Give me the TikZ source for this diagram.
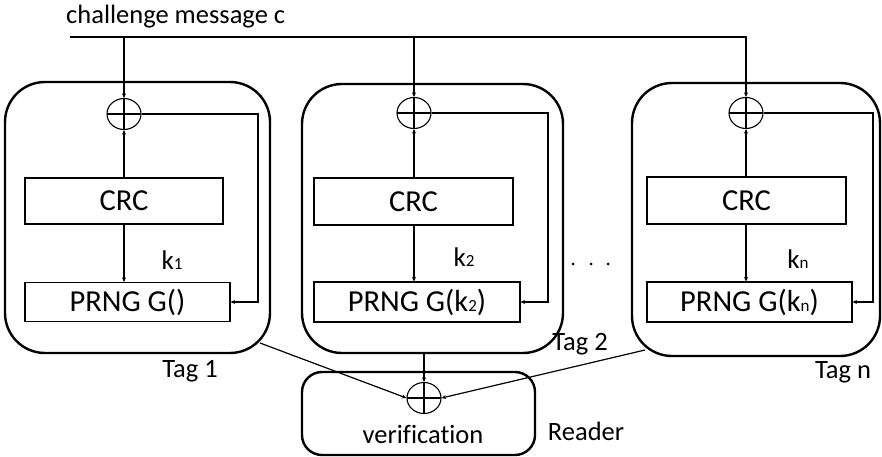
\documentclass[tikz,border=0pt]{standalone}
\usepackage{fontspec}
\setmainfont[Ligatures=NoCommon]{Carlito}
\usetikzlibrary{shapes.geometric,arrows.meta,calc}
\begin{document}
\begin{tikzpicture}[x=1pt,y=-1pt,
  tagbox/.style={draw,line width=2.4pt,rounded corners=40pt,inner sep=0pt},
  rdbox/.style={draw,line width=2.4pt,rounded corners=20pt,inner sep=0pt},
  blk/.style={draw,line width=1.1pt,inner sep=0pt,font=\fontsize{30.5}{32}\selectfont},
  xorn/.style={draw,ellipse,line width=1.1pt,inner sep=0pt,minimum width=34pt,minimum height=31pt,
    path picture={\draw[line width=1.1pt] (path picture bounding box.north) -- (path picture bounding box.south)
      (path picture bounding box.west) -- (path picture bounding box.east);}},
  lbl/.style={font=\fontsize{26.5}{28}\selectfont,inner sep=0pt},
  kl/.style={font=\fontsize{27}{28}\selectfont,inner sep=0pt},
  conn/.style={line width=1.2pt},
  arr/.style={line width=1.2pt,-{Stealth[length=4.5pt,width=4pt]}}
]
\useasboundingbox (0,0) rectangle (882,457);
\newcommand{\subsm}[1]{{\fontsize{17}{17}\selectfont #1}}
% challenge text
\node[lbl,anchor=west] (ch) at (66,17) {challenge message c};
% Tag boxes
\node[tagbox,minimum width=265pt,minimum height=271pt] (t1) at (137.5,217.5) {};
\node[tagbox,minimum width=261pt,minimum height=269pt] (t2) at (432.5,218.5) {};
\node[tagbox,minimum width=248pt,minimum height=273pt] (t3) at (756,219.5) {};
% xors
\node[xorn] (x1) at (124,114) {};
\node[xorn] (x2) at (414,113) {};
\node[xorn] (x3) at (746,113) {};
% CRC
\node[blk,minimum width=198pt,minimum height=46pt] (c1) at (124,201) {CRC};
\node[blk,minimum width=199pt,minimum height=47pt] (c2) at (413.5,201.5) {CRC};
\node[blk,minimum width=199pt,minimum height=47pt] (c3) at (746.5,200.5) {CRC};
% PRNG
\node[blk,minimum width=205pt,minimum height=39pt] (p1) at (127.5,302) {PRNG G()};
\node[blk,minimum width=206pt,minimum height=40pt] (p2) at (417,302) {PRNG G(k\subsm{2})};
\node[blk,minimum width=205pt,minimum height=40pt] (p3) at (749.5,302) {PRNG G(k\subsm{n})};
% k labels
\node[kl] (k1) at (172,260) {k\subsm{1}};
\node[kl] (k2) at (464,257) {k\subsm{2}};
\node[kl] (k3) at (798,259) {k\subsm{n}};
% dots
\foreach \xx/\nm in {573/d1,591/d2,608/d3} \fill (\xx,264) circle (1.5pt);
% labels
\node[lbl] (l1) at (190,371) {Tag 1};
\node[lbl] (l2) at (580,344) {Tag 2};
\node[lbl] (l3) at (843,372) {Tag n};
\node[lbl] (l4) at (586,431) {Reader};
% reader
\node[rdbox,minimum width=233pt,minimum height=83pt] (rd) at (418.5,413.5) {};
\node[xorn] (xr) at (424,398) {};
\node[lbl] (vf) at (423,434) {verification};
% challenge line
\coordinate (c0) at (70,37);
\draw[arr] (c0) -| (x3.north);
\draw[arr] (x1.north |- c0) -- (x1.north);
\draw[arr] (x2.north |- c0) -- (x2.north);
% CRC to xor, CRC to PRNG
\draw[arr] (c1.north) -- (x1.south);
\draw[arr] (c2.north -| x2) -- (x2.south);
\draw[arr] (c3.north -| x3) -- (x3.south);
\draw[arr] (c1.south -| x1) -- (x1 |- p1.north);
\draw[arr] (c2.south -| x2) -- (x2 |- p2.north);
\draw[arr] (c3.south -| x3) -- (x3 |- p3.north);
% feedback
\coordinate (f1) at (258,302);
\coordinate (f2) at (548,302);
\coordinate (f3) at (873,302);
\draw[arr] (x1.east) -| (f1) -- (p1.east);
\draw[arr] (x2.east) -| (f2) -- (p2.east);
\draw[arr] (x3.east) -| (f3) -- (p3.east);
% to reader
\coordinate (a1) at (260,343);
\coordinate (a3) at (645,350);
\draw[arr] (a1) -- (xr.west);
\draw[arr] (t2.south -| xr) -- (xr.north);
\draw[arr] (a3) -- (xr.east);
\end{tikzpicture}
\end{document}
